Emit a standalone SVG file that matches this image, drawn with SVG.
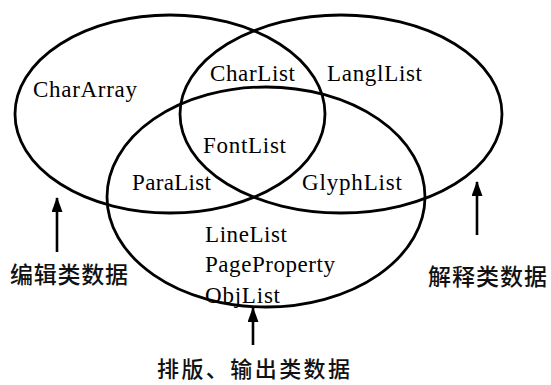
<svg xmlns="http://www.w3.org/2000/svg" width="551" height="385" viewBox="0 0 551 385">
<style>
.ell{fill:none;stroke:#000;stroke-width:2.8}
.t{font-family:"Liberation Serif","Times New Roman",serif;font-size:23px;fill:#000}
.c{font-family:"Noto Sans CJK SC","Noto Sans",sans-serif;font-size:23px;font-weight:500;fill:#111}
.ar{stroke:#000;stroke-width:2.6;fill:none}
</style>
<defs>
<marker id="ah" viewBox="0 0 15 11" refX="14" refY="5.5" markerWidth="15" markerHeight="11" markerUnits="userSpaceOnUse" orient="auto">
<path d="M0,0 L15,5.5 L0,11 Z" fill="#000"/>
</marker>
</defs>
<rect width="551" height="385" fill="#fff"/>
<g id="edit-set">
<ellipse class="ell" cx="170" cy="114" rx="155" ry="99"/>
<text class="t" x="33" y="97" textLength="104" lengthAdjust="spacing">CharArray</text>
</g>
<g id="interpret-set">
<ellipse class="ell" cx="341" cy="114" rx="161" ry="99"/>
<text class="t" x="327" y="81" textLength="95" lengthAdjust="spacing">LanglList</text>
</g>
<g id="layout-set">
<ellipse class="ell" cx="266" cy="197" rx="159" ry="110"/>
<text class="t" x="205" y="242" textLength="82" lengthAdjust="spacing">LineList</text>
<text class="t" x="205" y="272" textLength="130" lengthAdjust="spacing">PageProperty</text>
<text class="t" x="205" y="303" textLength="75" lengthAdjust="spacing">ObjList</text>
</g>
<g id="intersections">
<text class="t" x="210" y="81" textLength="85" lengthAdjust="spacing">CharList</text>
<text class="t" x="203" y="153" textLength="83" lengthAdjust="spacing">FontList</text>
<text class="t" x="132" y="190" textLength="79" lengthAdjust="spacing">ParaList</text>
<text class="t" x="302" y="190" textLength="100" lengthAdjust="spacing">GlyphList</text>
</g>
<g id="connectors">
<line class="ar" x1="57" y1="252" x2="57" y2="198" marker-end="url(#ah)"/>
<line class="ar" x1="477" y1="235" x2="477" y2="182" marker-end="url(#ah)"/>
<line class="ar" x1="253" y1="345" x2="253" y2="308" marker-end="url(#ah)"/>
</g>
<g id="label-edit">
<text class="c" x="10" y="283" textLength="118" lengthAdjust="spacing">编辑类数据</text>
</g>
<g id="label-interpret">
<text class="c" x="428" y="285" textLength="119" lengthAdjust="spacing">解释类数据</text>
</g>
<g id="label-layout">
<text class="c" x="157" y="377" style="font-size:22px" textLength="193" lengthAdjust="spacing">排版、输出类数据</text>
</g>
</svg>
